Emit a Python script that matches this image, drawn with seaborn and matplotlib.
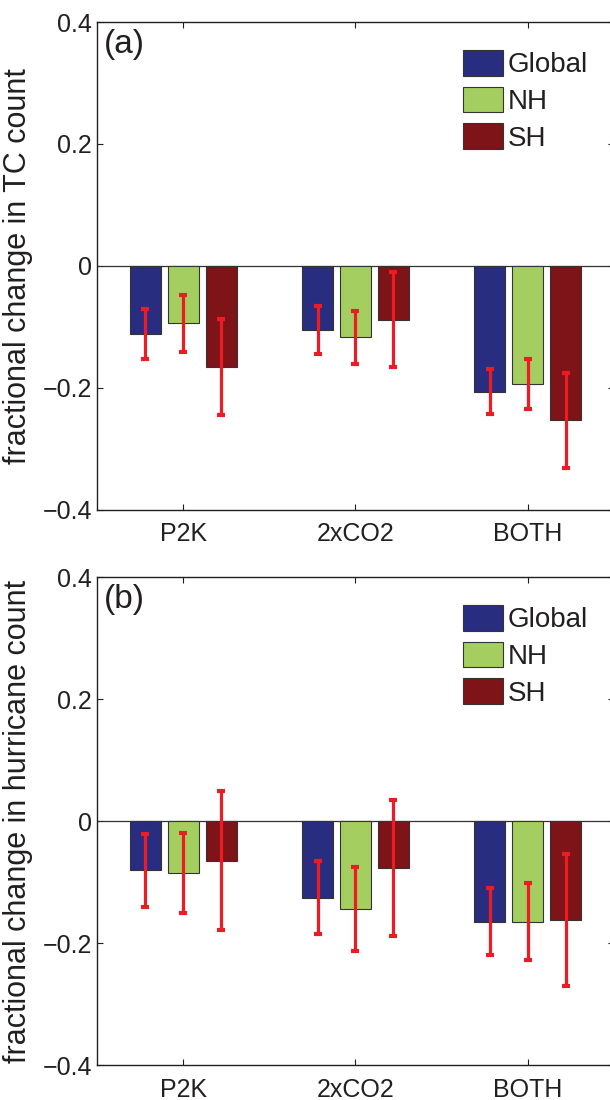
import matplotlib
matplotlib.use("Agg")
import matplotlib.pyplot as plt
from matplotlib.patches import Patch
import seaborn as sns
import pandas as pd

# ---- data ----
scenarios = ["P2K", "2xCO2", "BOTH"]
regions = ["Global", "NH", "SH"]

tc_global = [-0.111, -0.105, -0.206]
tc_nh = [-0.094, -0.117, -0.194]
tc_sh = [-0.166, -0.088, -0.253]
tc_err_global = [0.041, 0.040, 0.037]
tc_err_nh = [0.047, 0.044, 0.041]
tc_err_sh = [0.079, 0.078, 0.078]

hu_global = [-0.081, -0.126, -0.165]
hu_nh = [-0.085, -0.144, -0.165]
hu_sh = [-0.065, -0.077, -0.162]
hu_err_global = [0.060, 0.060, 0.055]
hu_err_nh = [0.065, 0.069, 0.063]
hu_err_sh = [0.114, 0.111, 0.108]

yticks = [-0.4, -0.2, 0, 0.2, 0.4]
ytick_labels = ["\u22120.4", "\u22120.2", "0", "0.2", "0.4"]

colors = ["#292d80", "#a4cf60", "#7e1418"]
err_color = "#ed1c24"
text_color = "#231f20"

sns.set_style("ticks")
plt.rcParams["font.family"] = ["Liberation Sans", "DejaVu Sans"]
plt.rcParams["text.color"] = text_color
plt.rcParams["axes.labelcolor"] = text_color
plt.rcParams["xtick.color"] = text_color
plt.rcParams["ytick.color"] = text_color

fig = plt.figure(figsize=(6.1, 11), dpi=100)
ax1 = fig.add_axes([0.159, 0.5364, 0.8475, 0.4436])
ax2 = fig.add_axes([0.159, 0.0318, 0.8475, 0.4436])


def make_df(g, n, s):
    rows = []
    for vals, reg in zip([g, n, s], regions):
        for sc, v in zip(scenarios, vals):
            rows.append({"scenario": sc, "region": reg, "value": v})
    return pd.DataFrame(rows)


panels = [
    (ax1, (tc_global, tc_nh, tc_sh), (tc_err_global, tc_err_nh, tc_err_sh),
     "fractional change in TC count", "(a)"),
    (ax2, (hu_global, hu_nh, hu_sh), (hu_err_global, hu_err_nh, hu_err_sh),
     "fractional change in hurricane count", "(b)"),
]

for ax, vals, errs, ylabel, tag in panels:
    df = make_df(*vals)
    ax.axhline(0, color="#333333", lw=0.9, zorder=1)
    sns.barplot(data=df, x="scenario", y="value", hue="region",
                order=scenarios, hue_order=regions, palette=colors,
                saturation=1, width=0.66, gap=0.18, edgecolor="#333333",
                linewidth=0.8, errorbar=None, legend=False, ax=ax, zorder=2)
    for cont, v, e in zip(ax.containers, vals, errs):
        xs = [p.get_x() + p.get_width() / 2 for p in cont.patches]
        ax.errorbar(xs, v, yerr=e, fmt="none", ecolor=err_color,
                    elinewidth=2.3, capsize=2.6, capthick=3.0, zorder=5)
    ax.set_xlim(-0.5, 2.5)
    ax.set_ylim(-0.4, 0.4)
    ax.set_yticks(yticks)
    ax.set_yticklabels(ytick_labels)
    ax.set_xlabel("")
    ax.set_ylabel(ylabel, fontsize=22)
    ax.yaxis.set_label_coords(-0.124, 0.5)
    ax.tick_params(axis="both", direction="in", length=4, width=0.8,
                   top=True, right=True, labelsize=18)
    ax.tick_params(axis="x", pad=9)
    ax.tick_params(axis="y", pad=3.5)
    for sp in ax.spines.values():
        sp.set_visible(True)
        sp.set_linewidth(1.0)
        sp.set_color(text_color)
    ax.text(0.014, 0.985, tag, transform=ax.transAxes, ha="left", va="top",
            fontsize=24)
    handles = [Patch(facecolor=c, edgecolor="#333333", linewidth=0.8)
               for c in colors]
    ax.legend(handles, regions, loc="upper left",
              bbox_to_anchor=(0.708, 0.9426), frameon=False,
              prop={"size": 20},
              handlelength=1.44, handleheight=1.04, handletextpad=0.16,
              labelspacing=0.3, borderpad=0, borderaxespad=0)

fig.savefig("out.png", dpi=100)
